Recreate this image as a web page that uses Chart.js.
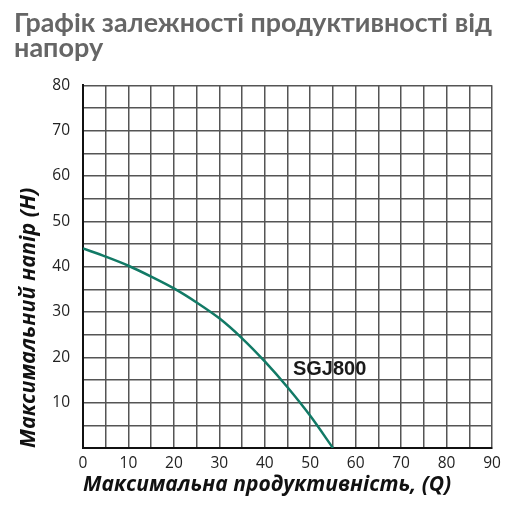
<!DOCTYPE html>
<html>
<head>
<meta charset="utf-8">
<script src="https://cdn.jsdelivr.net/npm/chart.js@4"></script>
<style>
  html, body { margin: 0; padding: 0; background: #fff; }
  #wrap { width: 512px; height: 512px; }
</style>
</head>
<body>
<div id="wrap"><canvas id="myChart" width="512" height="512"></canvas></div>
<script>
// Дані кривої (Q -> H)
const flowValues = [0, 5, 10, 15, 20, 25, 30, 35, 40, 45, 50, 55];
const headValues = [44, 42.2, 40.2, 37.8, 35.2, 32.1, 28.6, 24.2, 19.1, 13.4, 7.1, 0];
const seriesName = 'SGJ800';
const titleLines = ['Графік залежності продуктивності від', 'напору'];
const xTitle = 'Максимальна продуктивність, (Q)';
const yTitle = 'Максимальний напір (H)';
const labelAt = { x: 46.2, y: 17.3 };

const points = flowValues.map((q, i) => ({ x: q, y: headValues[i] }));

// підпис серії біля кривої
const seriesLabel = {
    id: 'seriesLabel',
    afterDatasetsDraw(chart) {
        const ctx = chart.ctx;
        const px = chart.scales.x.getPixelForValue(labelAt.x);
        const py = chart.scales.y.getPixelForValue(labelAt.y);
        ctx.save();
        ctx.font = 'bold 20px "Liberation Sans", Arial, sans-serif';
        ctx.fillStyle = '#1a1a1a';
        ctx.textAlign = 'left';
        ctx.textBaseline = 'middle';
        ctx.fillText(seriesName, px, py);
        ctx.restore();
    }
};

const ctx = document.getElementById('myChart').getContext('2d');
new Chart(ctx, {
    type: 'line',
    data: {
        datasets: [{
            label: seriesName,
            data: points,
            borderColor: '#127a66',
            borderWidth: 2.5,
            pointRadius: 0,
            tension: 0.3,
            fill: false
        }]
    },
    options: {
        responsive: false,
        animation: false,
        layout: { padding: { left: 14, right: 20, top: 0, bottom: 14 } },
        plugins: {
            legend: { display: false },
            tooltip: { enabled: false },
            title: {
                display: true,
                text: titleLines,
                align: 'start',
                color: '#666666',
                font: { family: 'Lato', size: 27, weight: 'bold', lineHeight: 0.95 },
                padding: { top: 10, bottom: 24 }
            }
        },
        scales: {
            x: {
                type: 'linear',
                min: 0,
                max: 90,
                afterFit: scale => { scale.height = 50; },
                ticks: {
                    stepSize: 5,
                    autoSkip: false,
                    maxRotation: 0,
                    padding: 6,
                    color: '#222',
                    font: { family: 'Open Sans', size: 15.5 },
                    callback: v => (v % 10 === 0 ? v : '')
                },
                grid: { color: '#555', lineWidth: 1.5, drawTicks: false },
                border: { color: '#111', width: 2 },
                title: {
                    display: true,
                    text: xTitle,
                    align: 'start',
                    color: '#111',
                    font: { family: 'Open Sans', size: 21, weight: 'bold', style: 'italic' },
                    padding: { top: 0, bottom: 0 }
                }
            },
            y: {
                type: 'linear',
                min: 0,
                max: 80,
                afterFit: scale => { scale.width = 69; },
                ticks: {
                    stepSize: 5,
                    autoSkip: false,
                    padding: 13,
                    color: '#222',
                    font: { family: 'Open Sans', size: 15.5 },
                    callback: v => (v % 10 === 0 && v !== 0 ? v : '')
                },
                grid: { color: '#555', lineWidth: 1.5, drawTicks: false },
                border: { color: '#111', width: 2 },
                title: {
                    display: true,
                    text: yTitle,
                    align: 'start',
                    color: '#111',
                    font: { family: 'Open Sans', size: 21.5, weight: 'bold', style: 'italic' },
                    padding: { top: 2, bottom: 0 }
                }
            }
        }
    },
    plugins: [seriesLabel]
});
</script>
</body>
</html>
